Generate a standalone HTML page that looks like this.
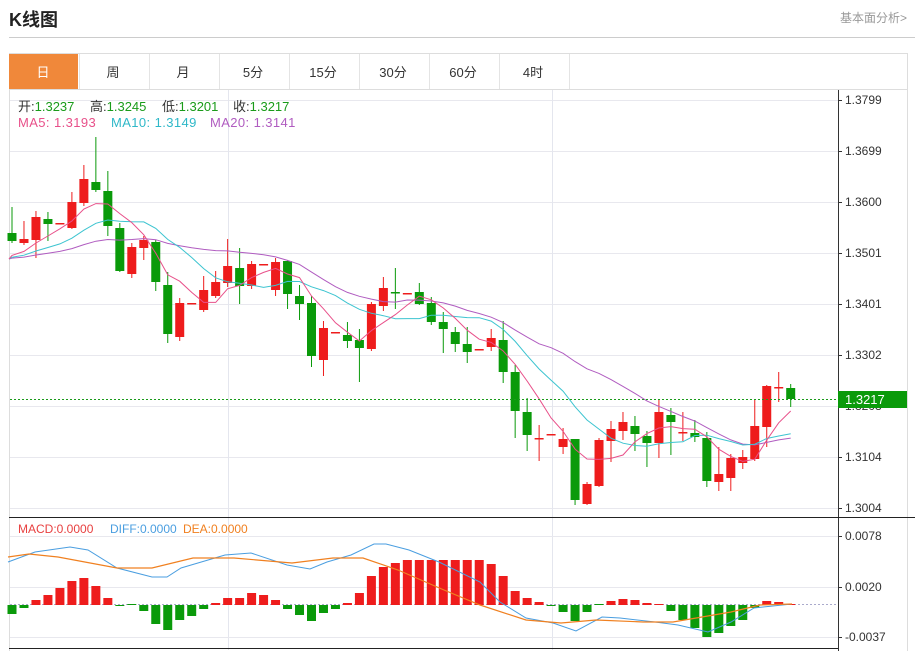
<!DOCTYPE html>
<html><head><meta charset="utf-8"><style>
body{margin:0;width:915px;height:651px;background:#fff;font-family:"Liberation Sans","Noto Sans CJK SC",sans-serif;position:relative;overflow:hidden}
.t{position:absolute;white-space:nowrap}
.g{color:#1a9b1a}
</style></head><body>
<div class="t" style="left:9px;top:6px;font-size:18px;font-weight:bold;color:#222">K线图</div>
<div class="t" style="left:840px;top:9px;font-size:12px;color:#999">基本面分析&gt;</div>
<div style="position:absolute;left:9px;top:37px;width:906px;height:1px;background:#ccc"></div>
<svg id="s" width="915" height="651" style="position:absolute;left:0;top:0" xmlns="http://www.w3.org/2000/svg"></svg>
<div class="t" style="left:18px;top:96px;font-size:13px;color:#333">开:<span class="g">1.3237</span></div>
<div class="t" style="left:90px;top:96px;font-size:13px;color:#333">高:<span class="g">1.3245</span></div>
<div class="t" style="left:162px;top:96px;font-size:13px;color:#333">低:<span class="g">1.3201</span></div>
<div class="t" style="left:233px;top:96px;font-size:13px;color:#333">收:<span class="g">1.3217</span></div>
<div class="t" style="left:18px;top:115px;font-size:13px;color:#e8508a;letter-spacing:0.4px">MA5: 1.3193</div>
<div class="t" style="left:111px;top:115px;font-size:13px;color:#2fb8c8;letter-spacing:0.4px">MA10: 1.3149</div>
<div class="t" style="left:210px;top:115px;font-size:13px;color:#b05cc0;letter-spacing:0.4px">MA20: 1.3141</div>
<div class="t" style="left:18px;top:522px;font-size:12px;color:#e84040">MACD:0.0000</div>
<div class="t" style="left:110px;top:522px;font-size:12px;color:#4a9ee0">DIFF:0.0000</div>
<div class="t" style="left:183px;top:522px;font-size:12px;color:#f08020">DEA:0.0000</div>
<script>
var s=document.getElementById('s'),h='';
function R(x,y,w,hh,f,st){h+='<rect x="'+x+'" y="'+y+'" width="'+w+'" height="'+hh+'" fill="'+f+'"'+(st?' stroke="'+st+'"':'')+'/>';}
function L(x1,y1,x2,y2,c,w,d){h+='<line x1="'+x1+'" y1="'+y1+'" x2="'+x2+'" y2="'+y2+'" stroke="'+c+'" stroke-width="'+(w||1)+'"'+(d?' stroke-dasharray="'+d+'"':'')+'/>';}
function T(x,y,t,c,fs){h+='<text x="'+x+'" y="'+y+'" fill="'+(c||'#333')+'" font-size="'+(fs||12)+'" font-family="Liberation Sans,sans-serif">'+t+'</text>';}
R(9.5,53.5,898,36,'#fff','#ddd');
var tabs=['日','周','月','5分','15分','30分','60分','4时'];
for(var i=0;i<8;i++){var x=9+i*70;if(i==0)R(x,54,69,35,'#f0883a');else L(x+0.5,54,x+0.5,89,'#e4e4e4');
h+='<text x="'+(x+34)+'" y="77" text-anchor="middle" font-size="13" fill="'+(i==0?'#fff':'#333')+'" font-family="Liberation Sans,Noto Sans CJK SC,sans-serif">'+tabs[i]+'</text>';}
L(569.5,54,569.5,89,'#e4e4e4');
L(9.5,89,9.5,651,'#ddd');L(907.5,89,907.5,651,'#ddd');
var gy=[100,151,202,253,304,355,406,457,508],gl=['1.3799','1.3699','1.3600','1.3501','1.3401','1.3302','1.3203','1.3104','1.3004'];
for(i=0;i<gy.length;i++){L(10,gy[i]+.5,838,gy[i]+.5,'#e8e8ee');L(838,gy[i]+.5,842,gy[i]+.5,'#333');T(845,gy[i]+4,gl[i]);}
L(228.5,90,228.5,650,'#e4e6ee');L(552.5,90,552.5,650,'#e4e6ee');
var my=[536,587,637],ml=['0.0078','0.0020','-0.0037'];
for(i=0;i<3;i++){L(10,my[i]+.5,838,my[i]+.5,'#e8e8ee');L(838,my[i]+.5,842,my[i]+.5,'#333');T(845,my[i]+4,ml[i]);}
L(838.5,90,838.5,651,'#333');L(9,517.5,915,517.5,'#222');L(9,648.5,838,648.5,'#222');
var C=[[233,241,207,243,0],[239,243,221,245,1],[217,240,211,258,1],[219,224,212,241,0],[223,223,223,223,1],[202,228,192,229,1],[179,203,165,206,1],[182,190,137,192,0],[191,226,171,236,0],[228,271,223,272,0],[247,274,243,278,1],[240,248,236,260,1],[242,282,240,291,0],[285,334,272,343,0],[303,337,298,341,1],[303,303,303,303,1],[290,310,276,312,1],[282,296,271,298,1],[266,283,239,287,1],[268,286,248,304,0],[264,286,261,289,1],[264,264,264,264,1],[262,290,258,296,1],[261,294,260,309,0],[296,304,285,320,0],[303,356,296,367,0],[328,360,321,376,1],[332,332,332,332,1],[335,341,322,348,0],[340,348,329,382,0],[304,349,302,351,1],[288,306,277,311,1],[292,292,268,309,0],[293,293,293,293,1],[292,304,283,305,0],[303,322,297,325,0],[322,329,312,353,0],[332,344,327,352,0],[344,352,327,363,0],[349,349,349,349,1],[338,347,329,351,1],[340,372,321,383,0],[372,411,365,438,0],[412,435,398,451,0],[438,438,425,461,1],[434,434,434,434,1],[439,447,428,454,1],[439,500,439,505,0],[484,504,482,505,1],[440,486,438,487,1],[429,441,421,462,1],[422,431,412,440,1],[426,434,416,451,0],[436,443,431,467,0],[412,443,400,458,1],[415,422,408,455,0],[432,432,412,441,1],[433,437,420,442,0],[438,481,432,487,0],[474,482,447,491,1],[458,478,454,491,1],[457,463,450,469,1],[426,459,400,461,1],[386,427,385,447,1],[387,387,372,402,1],[388,399,384,407,0]];
var G='#0a9a0a',RD='#ee1c1c',cl=[];
for(i=0;i<C.length;i++){var c=C[i],x=12+i*11.98,col=c[4]?RD:G;
L(x,c[2],x,c[3],col);R(x-4.5,c[0],9,Math.max(1.5,c[1]-c[0]),col);cl.push(c[4]?c[0]:c[1]);}
function ma(n){var p=[];for(var k=0;k<25;k++)p.push(259);var all=p.concat(cl);var pts='9,259 ';
for(var i=0;i<cl.length;i++){var sum=0;for(var j=0;j<n;j++)sum+=all[25+i-j];pts+=(12+i*11.98).toFixed(1)+','+(sum/n).toFixed(1)+' ';}return pts;}
h+='<polyline points="'+ma(20)+'" fill="none" stroke="#b05cc0" stroke-width="1"/>';
h+='<polyline points="'+ma(10)+'" fill="none" stroke="#3cc4d0" stroke-width="1"/>';
h+='<polyline points="'+ma(5)+'" fill="none" stroke="#e8508a" stroke-width="1"/>';
L(10,399.5,838,399.5,'#1a9b1a',1,'2,2');
R(838,391,69,17,'#0a9a0a');T(845,404,'1.3217','#fff',13);
L(10,604.5,838,604.5,'#aac',1,'2,2');
var M=[-9,-3,5,10,17,24,27,19,7,-1,0,-6,-19,-25,-15,-11,-4,2,7,7,12,10,5,-4,-10,-16,-8,-4,2,12,29,38,42,45,45,45,45,45,45,45,41,29,14,7,3,-1,-7,-16,-7,0,4,6,5,2,1,-6,-15,-23,-32,-28,-21,-15,-3,4,3,1];
for(i=0;i<M.length;i++){var x=12+i*11.98,v=M[i];if(v>0)R(x-4.5,605-v,9,v,RD);else if(v<0)R(x-4.5,605,9,-v,G);else R(x-4.5,604,9,1,G);}
h+='<polyline points="8,562 35,552 70,547 88,550 117,568 152,577 167,577 181,568 225,555 251,553 287,565 310,569 327,562 351,555 374,544 386,544 409,550 439,562 480,582 500,602 526,618 553,623 576,631 602,617 620,618 655,622 678,625 708,632 731,622 754,608 792,604" fill="none" stroke="#4a9ee0" stroke-width="1"/>';
h+='<polyline points="8,557 29,554 58,557 117,568 152,568 193,558 234,558 292,563 333,558 363,558 398,570 444,590 480,605 526,620 561,623 596,620 643,622 673,622 731,612 760,605 792,604" fill="none" stroke="#f08020" stroke-width="1.2"/>';
s.innerHTML=h;
</script>
</body></html>
